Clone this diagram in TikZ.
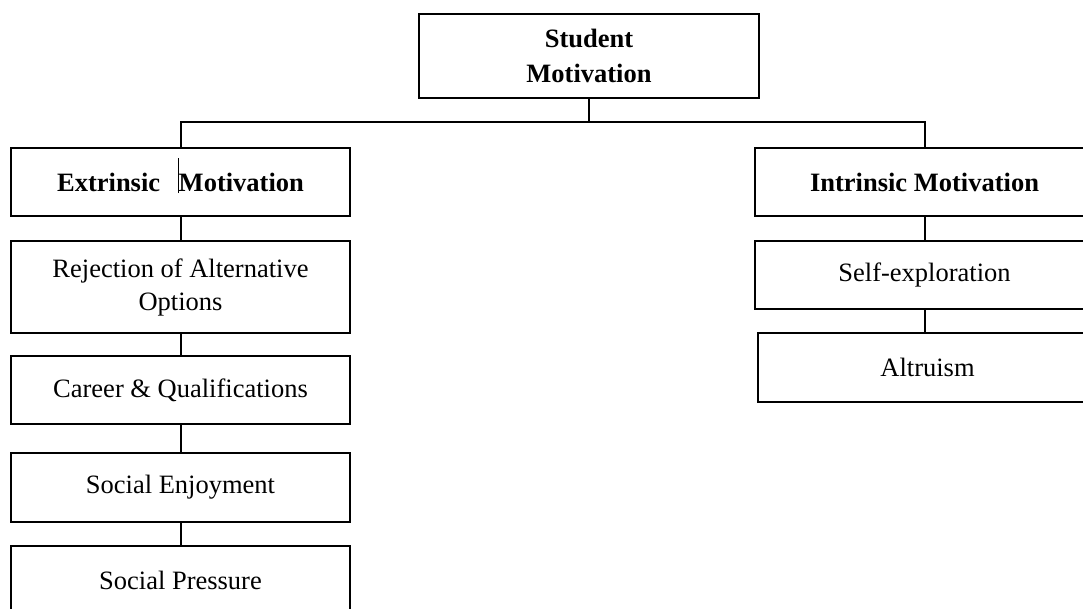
\documentclass[tikz,border=0pt]{standalone}
\usepackage{fontspec}
\setmainfont{Liberation Serif}
\usepackage{tikz}
\usetikzlibrary{positioning,calc}

\begin{document}
\begin{tikzpicture}[
  x=1pt,
  y=1pt,
  box/.style={draw=black, line width=2pt, minimum width=339pt, minimum height=68pt,
              inner sep=0pt, align=center, font=\fontsize{26.5}{33}\selectfont},
  headbox/.style={box, font=\fontsize{26.5}{35}\selectfont\bfseries},
  link/.style={black, line width=2pt},
]

% Frame of the page (right column runs off the edge)
\useasboundingbox (0,0) rectangle (1083,609);
\clip (0,0) rectangle (1083,609);

% Top
\node[headbox, minimum width=340pt, minimum height=84pt] (stud) at (589,553) {Student\\Motivation};

% Left column
\node[headbox] (extr) at (180.5,427) {Extrinsic\ \ \,\smash{\rule[-2pt]{0.9pt}{35pt}}Motivation};
\node[box, minimum height=92pt] (rej) at (180.5,322) {Rejection of Alternative\\Options};
\node[box] (car) at (180.5,219) {Career \& Qualifications};
\node[box, minimum height=69pt] (enj) at (180.5,121.5) {Social Enjoyment};
\node[box] (pres) at (180.5,29) {Social Pressure};

% Right column
\node[headbox] (intr) at (924.5,427) {Intrinsic Motivation};
\node[box] (self) at (924.5,334) {Self-exploration};
\node[box, minimum height=69pt] (alt) at (927.5,241.5) {Altruism};

% Split line
\coordinate (split) at (589,487);
\draw[link] (stud.south) -- (split);
\draw[link] (extr.north) |- (split) -| (intr.north);

% Chains
\foreach \a/\b in {extr/rej,rej/car,car/enj,enj/pres,intr/self}
  \draw[link] (\a.south) -- (\b.north);
\draw[link] (self.south) -- (self.south |- alt.north);

\end{tikzpicture}
\end{document}
